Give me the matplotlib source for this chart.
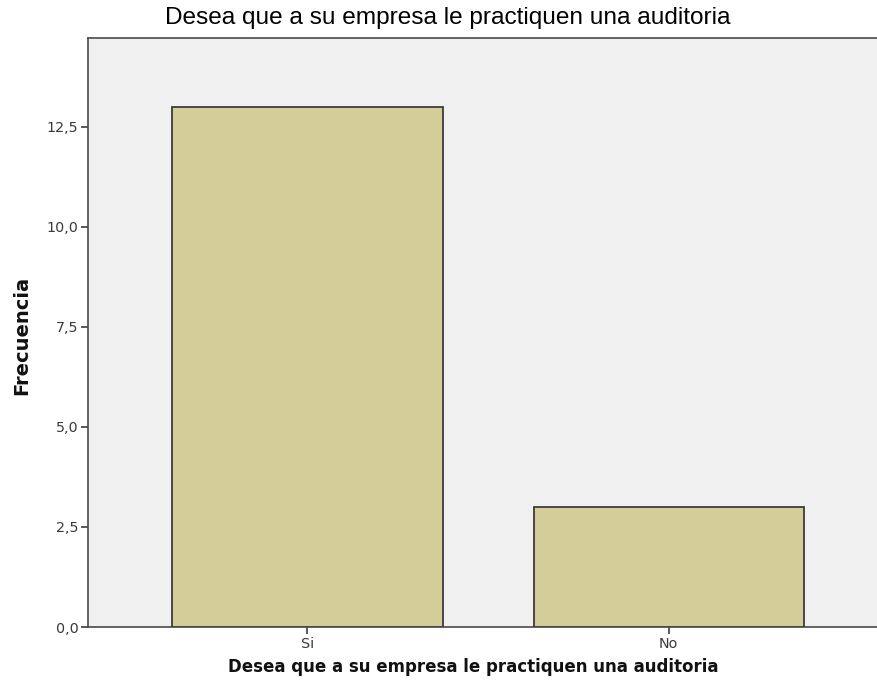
import matplotlib
matplotlib.use("Agg")
import matplotlib.pyplot as plt
from matplotlib import font_manager as fm
from matplotlib.ticker import FuncFormatter

categories = ["Si", "No"]
values = [13, 3]
yticks = [0, 2.5, 5.0, 7.5, 10.0, 12.5]
title = "Desea que a su empresa le practiquen una auditoria"
xlabel = "Desea que a su empresa le practiquen una auditoria"
ylabel = "Frecuencia"

plt.rcParams['font.family'] = ['DejaVu Sans']


def find_font(fname):
    for p in fm.findSystemFonts():
        if p.split("/")[-1] == fname:
            return p
    return None


title_path = find_font("LiberationSans-Regular.ttf")
if title_path:
    title_fp = fm.FontProperties(fname=title_path, size=17.6)
else:
    title_fp = fm.FontProperties(family="DejaVu Sans", size=15)

fig = plt.figure(figsize=(8.78, 6.96), dpi=100)
ax = fig.add_axes([0.1002, 0.0991, 0.8998, 0.8463])
ax.set_facecolor("#F0F0F0")

x = list(range(len(categories)))
ax.bar(x, values, width=0.748, color="#D3CE97", edgecolor="#3C3C3C", linewidth=1.3, zorder=3)

ax.set_xlim(-0.607, 1.579)
ax.set_ylim(0, 14.72)
ax.set_xticks(x)
ax.set_xticklabels(categories)
ax.set_yticks(yticks)
ax.yaxis.set_major_formatter(FuncFormatter(lambda v, p: f"{v:.1f}".replace(".", ",")))
ax.tick_params(axis="both", direction="out", length=5, width=1.2, color="#3C3C3C",
               labelsize=10.3, labelcolor="#3A3A3A", pad=2)

ax.spines["right"].set_visible(False)
for s in ["left", "bottom", "top"]:
    ax.spines[s].set_color("#4A4A4A")
    ax.spines[s].set_linewidth(1.2)

fig.text(0.5103, 1 - 18 / 696, title, fontproperties=title_fp,
         ha="center", va="center", color="#000000")
fig.text(0.539, 1 - 667 / 696, xlabel, fontsize=12.0, fontweight="bold",
         ha="center", va="center", color="#111111")
fig.text(22 / 878, 1 - 335 / 696, ylabel, fontsize=14, fontweight="bold", rotation=90,
         ha="center", va="center", color="#111111")

fig.savefig("out.png", dpi=100, facecolor="white")
